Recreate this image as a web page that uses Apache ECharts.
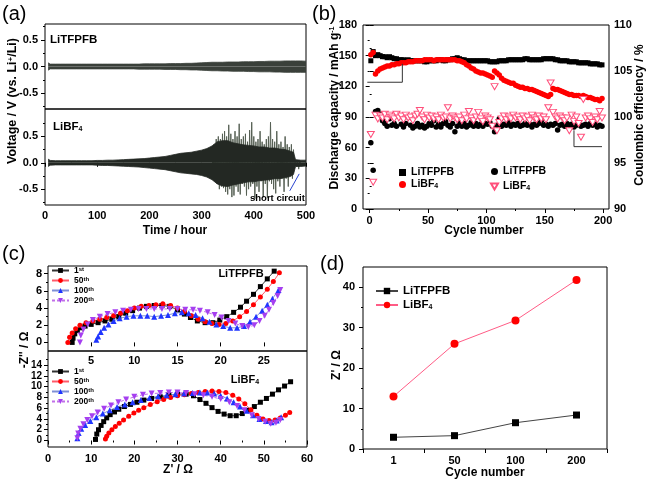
<!DOCTYPE html>
<html><head><meta charset="utf-8">
<script src="https://cdn.jsdelivr.net/npm/echarts@6/dist/echarts.min.js"></script>
<style>html,body{margin:0;padding:0;background:#fff}#c{width:648px;height:482px}</style>
</head><body><div id="c"></div>
<script>
// ---------- Panel (a): voltage envelopes ----------
const aTopHours = [6,10,20,30,40,50,60,70,80,90,100,110,120,130,140,150,160,170,180,190,200,210,220,230,240,250,260,270,280,290,300,310,320,330,340,350,360,370,380,390,400,410,420,430,440,450,460,470,480,490,500];
const aTopUpper = [0.07,0.045,0.045,0.045,0.045,0.045,0.045,0.045,0.045,0.045,0.045,0.045,0.045,0.045,0.045,0.045,0.045,0.045,0.045,0.05,0.05,0.05,0.05,0.05,0.055,0.055,0.055,0.06,0.06,0.065,0.07,0.075,0.08,0.08,0.08,0.085,0.085,0.085,0.09,0.09,0.09,0.095,0.095,0.1,0.1,0.1,0.105,0.105,0.105,0.105,0.1];
const aTopLower = [-0.07,-0.045,-0.045,-0.045,-0.045,-0.045,-0.045,-0.045,-0.045,-0.045,-0.045,-0.045,-0.045,-0.045,-0.045,-0.045,-0.045,-0.045,-0.05,-0.05,-0.05,-0.05,-0.05,-0.055,-0.055,-0.055,-0.06,-0.06,-0.065,-0.065,-0.07,-0.075,-0.08,-0.08,-0.085,-0.085,-0.09,-0.09,-0.09,-0.095,-0.095,-0.1,-0.1,-0.1,-0.105,-0.105,-0.11,-0.11,-0.11,-0.11,-0.11];
const aBotHours = [6,10,20,30,40,50,60,70,80,90,100,110,120,130,140,150,160,170,180,190,200,210,220,230,240,250,260,270,280,290,300,310,320,330,340,350,360,370,380,390,400,410,420,430,440,450,460,470,476,480,490,500];
const aBotUpper = [0.07,0.045,0.04,0.04,0.04,0.04,0.04,0.04,0.04,0.04,0.045,0.045,0.05,0.05,0.055,0.06,0.065,0.07,0.075,0.08,0.09,0.1,0.11,0.12,0.14,0.16,0.18,0.19,0.2,0.22,0.24,0.27,0.32,0.4,0.42,0.42,0.38,0.36,0.34,0.33,0.32,0.3,0.3,0.28,0.28,0.26,0.25,0.22,0.2,0.06,0.05,0.05];
const aBotLower = [-0.07,-0.045,-0.04,-0.04,-0.04,-0.04,-0.04,-0.04,-0.04,-0.04,-0.045,-0.05,-0.05,-0.055,-0.06,-0.065,-0.07,-0.075,-0.08,-0.09,-0.1,-0.11,-0.12,-0.13,-0.15,-0.17,-0.19,-0.2,-0.21,-0.22,-0.24,-0.27,-0.32,-0.4,-0.44,-0.45,-0.42,-0.4,-0.38,-0.36,-0.36,-0.34,-0.33,-0.32,-0.3,-0.3,-0.28,-0.26,-0.22,-0.07,-0.07,-0.06];
const aSpikeHours = [320,322,324,326,328,330,332,334,336,338,340,342,344,346,348,350,352,354,356,358,360,362,364,366,368,370,372,374,376,378,380,382,384,386,388,390,392,394,396,398,400,402,404,406,408,410,412,414,416,418,420,422,424,426,428,430,432,434,436,438,440,442,444,446,448,450,452,454,456,458,460,462,464,466,468,470,472,474,476,478,480,482,484,486,488,490];
const aSpikeVolts = [0.32,-0.3,0.35,-0.35,0.45,-0.4,0.5,-0.5,0.45,-0.45,0.55,-0.48,0.6,-0.55,0.5,-0.6,0.72,-0.5,0.55,-0.65,0.45,-0.62,0.6,-0.45,0.5,-0.55,0.74,-0.6,0.45,-0.4,0.5,-0.45,0.55,-0.62,0.4,-0.5,0.62,-0.45,0.77,-0.4,0.5,-0.68,0.4,-0.45,0.45,-0.55,0.6,-0.35,0.4,-0.65,0.35,-0.4,0.45,-0.66,0.5,-0.35,0.77,-0.4,0.45,-0.5,0.4,-0.58,0.6,-0.35,0.35,-0.45,0.4,-0.3,0.3,-0.55,0.5,-0.3,0.35,-0.45,0.3,-0.25,0.35,-0.3,0.25,-0.1,0.06,-0.07,0.05,-0.12,0.05,-0.06];
const aArrow = [[469,-0.53],[487,-0.21]];

// ---------- Panel (b): cycling ----------
const bCycles = [1,3,5,7,9,11,13,15,17,19,21,23,25,27,29,31,33,35,37,39,41,43,45,47,49,51,53,55,57,59,61,63,65,67,69,71,73,75,77,79,81,83,85,87,89,91,93,95,97,99,101,103,105,107,109,111,113,115,117,119,121,123,125,127,129,131,133,135,137,139,141,143,145,147,149,151,153,155,157,159,161,163,165,167,169,171,173,175,177,179,181,183,185,187,189,191,193,195,197,199];
const bCapTFPFB = [145,154,150,151,150,149,149,148,149,148, 147,147,146,146,146,145,146,145,145,145, 145,145,145,144,144,145,145,145,145,146, 146,145,145,146,146,147,147,148,147,146, 146,145,145,145,145,145,145,145,145,145, 145,144,144,144,144,145,145,145,145,146, 146,146,146,146,146,146,147,147,146,146, 146,146,146,146,147,147,147,147,147,146, 146,145,145,145,145,144,144,144,144,143, 143,143,143,143,142,142,142,142,141,141];
const bCapBF4 = [151,153,132,135,137,138,139,140,140,141, 141,142,142,143,143,143,144,144,144,145, 145,145,145,146,146,146,146,145,146,146, 146,146,146,146,146,146,146,145,145,144, 143,141,140,138,137,135,134,133,133,132, 131,130,129,135,133,131,128,126,125,124, 123,123,121,120,119,119,118,118,117,117, 116,115,114,113,112,111,110,112,118,117, 117,116,115,114,113,112,112,111,111,111, 110,111,110,109,109,108,107,107,106,108];
const bCeTFPFB = [97.2,94.2,100.6,100.7,100.3,99.6,99.3,99.0,99.8,99.1, 99.3,99.0,100.1,99.2,98.9,99.3,100.0,99.1,98.8,99.0, 99.3,98.9,99.1,98.8,99.0,99.3,99.1,99.6,98.9,99.2, 98.9,99.3,99.5,99.1,98.9,99.3,98.4,99.0,99.4,99.0, 99.3,98.9,99.1,99.4,99.0,99.3,99.0,99.2,99.0,99.3, 99.2,99.4,99.0,98.4,99.1,99.8,99.0,99.2,99.1,99.4, 99.0,99.2,99.1,99.3,99.0,99.1,99.3,99.1,99.2,98.9, 99.2,99.1,99.3,99.6,99.1,99.2,99.0,99.2,99.1,99.3, 98.6,99.1,99.2,99.0,99.3,99.1,99.2,98.9,99.1,99.3, 99.0,99.1,99.2,99.0,99.3,99.1,99.2,98.9,99.1,99.0];
const bCeBF4 = [98.1,92.9,100.2,99.8,100.1,99.9,100.3,99.7,100.2,100.0, 99.8,100.3,99.9,100.1,99.7,100.2,99.9,100.0,99.6,100.1, 100.3,100.7,100.0,99.7,100.2,99.9,100.1,99.8,100.0,99.7, 100.2,99.9,100.0,101.0,99.8,100.1,99.9,99.7,100.0,99.6, 100.2,99.8,100.6,99.9,99.6,100.0,100.5,99.8,99.5,100.1, 99.9,99.7,99.0,103.3,98.5,99.4,99.8,100.1,99.7,100.0, 99.8,100.2,99.9,100.0,99.7,100.1,99.8,100.0,99.6,100.2, 99.9,99.7,100.1,99.8,100.0,99.7,101.0,103.7,100.5,100.0, 99.8,100.1,99.9,99.6,99.9,98.5,100.2,99.5,100.0,99.3, 97.8,101.9,99.9,100.1,99.8,99.4,100.0,99.7,100.6,99.9];
const bArrowCap = [[28,142],[28,124],[-2,124]];
const bArrowCe = [[175,77],[175,61],[199,61]];

// ---------- Panel (c): Nyquist ----------
const cTop1st = [[2.8,0],[2.9,0.5],[3.1,1.0],[3.4,1.4],[3.8,1.7],[4.3,1.9],[5.0,2.1],[5.8,2.3],[6.6,2.5],[7.4,2.7],[8.2,3.0],[9.0,3.4],[9.8,3.7],[10.6,4.0],[11.4,4.2],[12.3,4.3],[13.2,4.3],[14.1,4.2],[15.0,3.8],[15.8,3.3],[16.5,2.9],[17.3,2.5],[18.2,2.3],[19.1,2.3],[19.9,2.6],[20.7,3.0],[21.5,3.5],[22.3,4.1],[23.0,4.8],[23.8,5.6],[24.6,6.5],[25.4,7.4],[26.2,8.3]];
const cTop50th = [[2.3,0],[2.5,0.6],[2.8,1.1],[3.2,1.6],[3.7,2.0],[4.4,2.3],[5.2,2.5],[6.0,2.7],[6.8,2.9],[7.6,3.1],[8.4,3.4],[9.2,3.7],[10.0,4.0],[10.8,4.2],[11.7,4.3],[12.5,4.4],[13.3,4.5],[14.2,4.3],[15.0,4.0],[15.8,3.6],[16.6,3.1],[17.4,2.7],[18.2,2.4],[19.0,2.2],[19.8,2.1],[20.6,2.2],[21.4,2.5],[22.2,3.0],[23.0,3.6],[23.8,4.4],[24.6,5.3],[25.4,6.2],[26.1,7.1],[26.8,8.1]];
const cTop100th = [[5.6,0.3],[5.8,0.7],[6.1,1.2],[6.5,1.7],[7.0,2.1],[7.6,2.5],[8.3,2.8],[9.1,3.0],[9.9,3.1],[10.7,3.1],[11.5,3.1],[12.3,3.0],[13.1,3.1],[13.9,3.2],[14.7,3.4],[15.5,3.5],[16.3,3.4],[17.1,3.2],[17.9,2.8],[18.7,2.4],[19.5,2.1],[20.3,1.9],[21.1,1.7],[21.9,1.7],[22.7,1.9],[23.4,2.4],[24.1,3.0],[24.8,3.7],[25.4,4.4],[26.0,5.1],[26.7,6.1]];
const cTop200th = [[3.7,0],[3.8,0.8],[4.1,1.5],[4.6,2.1],[5.2,2.6],[6.0,3.0],[6.9,3.3],[7.8,3.5],[8.7,3.7],[9.6,3.8],[10.5,3.9],[11.4,3.9],[12.3,3.9],[13.2,3.9],[14.1,3.9],[15.0,3.9],[15.9,3.8],[16.8,3.8],[17.6,3.7],[18.5,3.5],[19.3,3.2],[20.1,2.9],[20.9,2.5],[21.7,2.2],[22.5,1.9],[23.2,1.8],[23.9,2.0],[24.5,2.5],[25.1,3.1],[25.6,3.8],[26.1,4.6],[26.6,5.4],[26.9,6.1]];
const cBot1st = [[11.0,0.2],[11.3,1.2],[11.7,2.0],[12.3,2.8],[12.9,3.5],[13.6,4.2],[14.4,4.8],[15.4,5.3],[16.4,5.8],[17.7,6.3],[19.1,6.7],[20.6,7.1],[22.2,7.5],[24.0,7.8],[26.0,8.1],[28.0,8.4],[30.0,8.6],[32.0,8.6],[33.7,8.3],[35.2,7.6],[36.6,6.9],[38.0,6.1],[39.4,5.4],[40.8,4.9],[42.2,4.6],[43.6,4.6],[45.0,5.0],[46.4,5.6],[47.8,6.3],[49.2,7.1],[50.6,7.8],[52.0,8.6],[53.4,9.4],[54.8,10.1],[56.2,10.9]];
const cBot50th = [[13.3,0.3],[13.6,0.8],[14.1,1.4],[14.8,2.0],[15.6,2.6],[16.5,3.2],[17.5,3.8],[18.7,4.5],[19.9,5.1],[21.0,5.6],[22.2,6.1],[23.7,6.7],[25.3,7.2],[26.8,7.6],[28.4,8.0],[30.0,8.3],[31.6,8.5],[33.2,8.7],[34.8,8.9],[36.4,9.1],[38.0,9.2],[39.6,9.1],[41.2,8.9],[42.8,8.4],[44.2,7.7],[45.6,6.8],[47.0,5.7],[48.4,4.7],[49.8,4.0],[51.2,3.7],[52.6,3.8],[53.8,4.2],[55.0,4.7],[56.0,5.2]];
const cBot100th = [[6.8,0.4],[7.1,1.4],[7.7,2.2],[8.6,2.9],[9.8,3.6],[11.2,4.3],[12.7,5.0],[14.3,5.6],[16.0,6.2],[17.8,6.7],[19.6,7.1],[21.5,7.5],[23.5,7.9],[25.5,8.2],[27.5,8.4],[29.5,8.6],[31.5,8.7],[33.5,8.8],[35.2,8.9],[36.9,8.9],[38.5,8.7],[40.0,8.3],[41.5,7.8],[43.0,7.1],[44.5,6.3],[46.0,5.5],[47.5,4.7],[49.0,4.0],[50.5,3.6],[51.8,3.4],[53.0,3.7],[54.0,4.3]];
const cBot200th = [[6.8,0.4],[7.0,1.3],[7.5,2.2],[8.2,3.0],[9.1,3.8],[10.2,4.5],[11.5,5.2],[13.0,5.9],[14.6,6.5],[16.3,7.1],[18.1,7.6],[20.0,8.1],[22.0,8.5],[24.0,8.7],[26.0,8.8],[28.0,8.9],[30.0,8.9],[32.0,8.8],[34.0,8.6],[36.0,8.4],[38.0,8.1],[40.0,7.7],[42.0,7.1],[43.8,6.4],[45.5,5.6],[47.2,4.7],[48.8,4.0],[50.3,3.5],[51.6,3.1],[52.8,3.3],[53.8,3.8]];

// ---------- Panel (d) ----------
const dCycles = ['1','50','100','200'];
const dTFPFB = [2.9,3.3,6.5,8.4];
const dBF4 = [13.0,26.0,31.8,41.8];

// ---------- tick label lists ----------
const aYLabels = [-0.5,0,0.5];
const aYMinor = [-0.75,-0.25,0.25,0.75];
const bXLabels = [0,50,100,150,200];
const bXMinor = [25,75,125,175];
const cTopXLabels = [5,10,15,20,25];
const cTopYLabels = [0,2,4,6,8];
const cTopYMinor = [1,3,5,7];
const cBotYLabels = [0,2,4,6,8,10,12,14];
const cBotYMinor = [1,3,5,7,9,11,13,15];
const dYLabels = [0,10,20,30,40];
const dYMinor = [5,15,25,35];

const FONT = "'Liberation Sans', Arial, sans-serif";
const zip = (xs, ys) => xs.map((x, i) => [x, ys[i]]);

function valAxis(o) {
  const ax = {
    type: 'value', gridIndex: o.grid, min: o.min, max: o.max,
    axisLine: {show: false}, splitLine: {show: false},
    axisTick: {show: true, length: o.tickLen || 4, lineStyle: {color: '#000', width: 1}},
    axisLabel: {show: !o.noLabel, color: '#000', fontSize: o.fontSize || 11, fontWeight: 'bold', fontFamily: FONT,
      margin: o.margin == null ? 5 : o.margin, showMinLabel: true, showMaxLabel: true, hideOverlap: false}
  };
  if (o.lineHeight) ax.axisLabel.lineHeight = o.lineHeight;
  if (o.position) ax.position = o.position;
  if (o.fmt) ax.axisLabel.formatter = o.fmt;
  if (o.interval) ax.interval = o.interval;
  if (o.labels) ax.axisLabel.customValues = o.labels;
  if (o.ticks) ax.axisTick.customValues = o.ticks;
  if (o.minorSplit) ax.minorTick = {show: true, splitNumber: o.minorSplit, length: 2, lineStyle: {color: '#000', width: 1}};
  if (o.hideTicks) ax.axisTick.show = false;
  return ax;
}

const gridBase = {show: true, borderColor: '#000', borderWidth: 1, backgroundColor: 'transparent'};
const grids = [
  Object.assign({left: 45, top: 24, width: 261, height: 85}, gridBase),
  Object.assign({left: 45, top: 109, width: 261, height: 96}, gridBase),
  Object.assign({left: 363, top: 25, width: 246, height: 184}, gridBase),
  Object.assign({left: 48, top: 266, width: 259, height: 85}, gridBase),
  Object.assign({left: 48, top: 351, width: 259, height: 96}, gridBase),
  Object.assign({left: 363, top: 267, width: 244, height: 182}, gridBase)
];

const fmt1 = v => v.toFixed(1);
const xAxes = [
  valAxis({grid: 0, min: 0, max: 500, noLabel: true, hideTicks: true, position: 'bottom'}),
  valAxis({grid: 1, min: 0, max: 500, interval: 100, minorSplit: 2, margin: 5, position: 'bottom'}),
  valAxis({grid: 2, min: -5.7, max: 205, labels: bXLabels, ticks: bXLabels, margin: 6, position: 'bottom'}),
  valAxis({grid: 2, min: -5.7, max: 205, noLabel: true, ticks: bXMinor, tickLen: 2, position: 'bottom'}),
  valAxis({grid: 3, min: 0, max: 30, labels: cTopXLabels, ticks: cTopXLabels, margin: 4, position: 'bottom'}),
  valAxis({grid: 4, min: 0, max: 60, interval: 10, minorSplit: 2, margin: 6, position: 'bottom'}),
  {type: 'category', gridIndex: 5, data: dCycles, boundaryGap: true, position: 'bottom',
   axisLine: {show: false}, splitLine: {show: false},
   axisTick: {show: true, length: 4, lineStyle: {color: '#000'}},
   axisLabel: {color: '#000', fontSize: 11, fontWeight: 'bold', fontFamily: FONT, margin: 6}}
];
const yAxes = [
  valAxis({grid: 0, min: -0.8, max: 0.8, labels: aYLabels, ticks: aYLabels, fmt: fmt1, margin: 7, position: 'left'}),
  valAxis({grid: 0, min: -0.8, max: 0.8, noLabel: true, ticks: aYMinor, tickLen: 2, position: 'left'}),
  valAxis({grid: 1, min: -0.8, max: 1.02, labels: aYLabels, ticks: aYLabels, fmt: fmt1, margin: 7, position: 'left'}),
  valAxis({grid: 1, min: -0.8, max: 1.02, noLabel: true, ticks: aYMinor, tickLen: 2, position: 'left'}),
  valAxis({grid: 2, min: 0, max: 180, interval: 30, minorSplit: 2, margin: 6, position: 'left'}),
  valAxis({grid: 2, min: 90, max: 110, interval: 5, minorSplit: 2, margin: 5, position: 'right'}),
  valAxis({grid: 3, min: -1, max: 8.9, labels: cTopYLabels, ticks: cTopYLabels, margin: 6, position: 'left'}),
  valAxis({grid: 3, min: -1, max: 8.9, noLabel: true, ticks: cTopYMinor, tickLen: 2, position: 'left'}),
  valAxis({grid: 4, min: -1.2, max: 16.6, labels: cBotYLabels, ticks: cBotYLabels, margin: 6, fontSize: 10, lineHeight: 9, position: 'left'}),
  valAxis({grid: 4, min: -1.2, max: 16.6, noLabel: true, ticks: cBotYMinor, tickLen: 2, position: 'left'}),
  valAxis({grid: 5, min: 0, max: 45, labels: dYLabels, ticks: dYLabels, margin: 8, position: 'left'}),
  valAxis({grid: 5, min: 0, max: 45, noLabel: true, ticks: dYMinor, tickLen: 2, position: 'left'})
];

const TRI_DOWN = 'path://M0,0 L10,0 L5,8.66 Z';
const richSub = {sub: {fontSize: 7, fontWeight: 'bold', fontFamily: FONT, color: '#000', verticalAlign: 'bottom', lineHeight: 4}};
const richSup = {sup: {fontSize: 6, fontWeight: 'bold', fontFamily: FONT, color: '#000', verticalAlign: 'top', lineHeight: 4}};

function band(name, xi, yi, hours, vals, color, z) {
  return {type: 'line', name, xAxisIndex: xi, yAxisIndex: yi, data: zip(hours, vals), showSymbol: false, symbol: 'none',
    lineStyle: {color, width: 0.8}, areaStyle: {color, opacity: 1}, silent: true, z: z || 2};
}
function nyq(name, xi, yi, data, symbol, mColor, lColor, lType, size) {
  return {type: 'line', name, xAxisIndex: xi, yAxisIndex: yi, data, symbol, symbolSize: size,
    itemStyle: {color: mColor}, lineStyle: {color: lColor, width: 1, type: lType}, silent: true};
}

const series = [
  band('aTopU', 0, 0, aTopHours, aTopUpper, '#3a403a'),
  band('aTopL', 0, 0, aTopHours, aTopLower, '#3a403a'),
  {type: 'line', name: 'aSpike', xAxisIndex: 1, yAxisIndex: 2, data: zip(aSpikeHours, aSpikeVolts), showSymbol: false, symbol: 'none',
   lineStyle: {color: '#566054', width: 1}, silent: true, z: 2},
  band('aBotU', 1, 2, aBotHours, aBotUpper, '#232823', 3),
  band('aBotL', 1, 2, aBotHours, aBotLower, '#232823', 3),
  {type: 'lines', coordinateSystem: 'cartesian2d', xAxisIndex: 1, yAxisIndex: 2, polyline: true,
   symbol: ['none', 'arrow'], symbolSize: 5, lineStyle: {color: '#2a44d0', width: 1, opacity: 1}, data: [{coords: aArrow}], silent: true, z: 5},
  // (b)
  {type: 'scatter', name: 'LiTFPFB_cap', xAxisIndex: 2, yAxisIndex: 4, data: zip(bCycles, bCapTFPFB), symbol: 'rect', symbolSize: 5, itemStyle: {color: '#000', opacity: 1}, silent: true, z: 3},
  {type: 'scatter', name: 'LiBF4_cap', xAxisIndex: 2, yAxisIndex: 4, data: zip(bCycles, bCapBF4), symbol: 'circle', symbolSize: 5.5, itemStyle: {color: '#ff0000', opacity: 1}, silent: true, z: 4},
  {type: 'scatter', name: 'LiTFPFB_ce', xAxisIndex: 2, yAxisIndex: 5, data: zip(bCycles, bCeTFPFB), symbol: 'circle', symbolSize: 5.5, itemStyle: {color: '#000', opacity: 1}, silent: true, z: 3},
  {type: 'scatter', name: 'LiBF4_ce', xAxisIndex: 2, yAxisIndex: 5, data: zip(bCycles, bCeBF4), symbol: TRI_DOWN, symbolSize: [7, 6], itemStyle: {color: '#fff', borderColor: '#ff4f7b', borderWidth: 1, opacity: 1}, silent: true, z: 4},
  {type: 'lines', coordinateSystem: 'cartesian2d', xAxisIndex: 2, yAxisIndex: 4, polyline: true,
   symbol: ['none', 'arrow'], symbolSize: 6, lineStyle: {color: '#333', width: 1, opacity: 1}, data: [{coords: bArrowCap}, {coords: bArrowCe}], silent: true, z: 5},
  // (c)
  nyq('1st', 4, 6, cTop1st, 'rect', '#000', '#333', 'solid', 5),
  nyq('50th', 4, 6, cTop50th, 'circle', '#ff0000', '#ff5a6a', 'solid', 5),
  nyq('100th', 4, 6, cTop100th, 'triangle', '#1f35ff', '#7f8fd6', 'solid', 6),
  nyq('200th', 4, 6, cTop200th, TRI_DOWN, '#a53ff0', '#c070e8', [3, 2], 6),
  nyq('1st', 5, 8, cBot1st, 'rect', '#000', '#333', 'solid', 5),
  nyq('50th', 5, 8, cBot50th, 'circle', '#ff0000', '#ff5a6a', 'solid', 5),
  nyq('100th', 5, 8, cBot100th, 'triangle', '#1f35ff', '#7f8fd6', 'solid', 6),
  nyq('200th', 5, 8, cBot200th, TRI_DOWN, '#a53ff0', '#c070e8', [3, 2], 6),
  // (d)
  {type: 'line', name: 'LiTFPFB_d', xAxisIndex: 6, yAxisIndex: 10, data: dTFPFB, symbol: 'rect', symbolSize: 7,
   itemStyle: {color: '#000'}, lineStyle: {color: '#444', width: 1}, silent: true},
  {type: 'line', name: 'LiBF4_d', xAxisIndex: 6, yAxisIndex: 10, data: dBF4, symbol: 'circle', symbolSize: 8,
   itemStyle: {color: '#ff0000'}, lineStyle: {color: '#ff5c86', width: 1}, silent: true}
];

const legendNames = {
  'LiTFPFB_cap': 'LiTFPFB', 'LiBF4_cap': 'LiBF{sub|4}', 'LiTFPFB_ce': 'LiTFPFB', 'LiBF4_ce': 'LiBF{sub|4}',
  'LiTFPFB_d': 'LiTFPFB', 'LiBF4_d': 'LiBF{sub|4}',
  '1st': '1{sup|st}', '50th': '50{sup|th}', '100th': '100{sup|th}', '200th': '200{sup|th}'
};
const fmtLegend = n => legendNames[n] || n;
function legend(o) {
  return Object.assign({orient: 'vertical', selectedMode: false, padding: 0, formatter: fmtLegend,
    textStyle: {color: '#000', fontWeight: 'bold', fontFamily: FONT, fontSize: o.fontSize || 11,
      rich: Object.assign({}, richSub, richSup)}}, o);
}
const legends = [
  legend({data: ['LiTFPFB_cap', 'LiBF4_cap'], left: 399, top: 167, itemWidth: 7, itemHeight: 7, itemGap: 1, fontSize: 10.5}),
  legend({data: ['LiTFPFB_ce', 'LiBF4_ce'], left: 490, top: 166, itemWidth: 7, itemHeight: 7, itemGap: 4, fontSize: 10.5}),
  legend({data: ['1st', '50th', '100th', '200th'], left: 51, top: 266, itemWidth: 17, itemHeight: 6, itemGap: 1, fontSize: 8.5}),
  legend({data: ['1st', '50th', '100th', '200th'], left: 51, top: 367, itemWidth: 17, itemHeight: 6, itemGap: 1, fontSize: 8.5}),
  legend({data: ['LiTFPFB_d', 'LiBF4_d'], left: 375, top: 285, itemWidth: 22, itemHeight: 8, itemGap: 2, fontSize: 11.5})
];

function T(x, y, text, size, o) {
  o = o || {};
  return {type: 'text', x, y, rotation: o.rot || 0, silent: true, z: 10,
    style: {text, fill: o.color || '#000', fontSize: size, fontWeight: o.weight || 'bold', fontFamily: FONT,
      align: o.align || 'center', verticalAlign: 'middle', textAlign: o.align || 'center', textVerticalAlign: 'middle',
      rich: {
        sub: {fontSize: Math.round(size * 0.62), fontWeight: 'bold', fontFamily: FONT, fill: '#000', verticalAlign: 'bottom', lineHeight: 4},
        sup: {fontSize: Math.round(size * 0.62), fontWeight: 'bold', fontFamily: FONT, fill: '#000', verticalAlign: 'top', lineHeight: 4}
      }}};
}
const R = Math.PI / 2;
const graphics = [
  T(2, 14, '(a)', 20, {weight: 'normal', align: 'left'}),
  T(312, 14, '(b)', 20, {weight: 'normal', align: 'left'}),
  T(2, 254, '(c)', 20, {weight: 'normal', align: 'left'}),
  T(320, 264, '(d)', 20, {weight: 'normal', align: 'left'}),
  T(50, 40, 'LiTFPFB', 11.5, {align: 'left'}),
  T(53, 127, 'LiBF{sub|4}', 11.5, {align: 'left'}),
  T(250, 198, 'short circuit', 9.5, {align: 'left'}),
  T(13, 101, 'Voltage / V (vs. Li{sup|+}/Li)', 12.5, {rot: R}),
  T(175, 231, 'Time / hour', 12),
  T(335, 108, 'Discharge capacity / mAh g{sup|-1}', 12, {rot: R}),
  T(640, 115, 'Coulombic efficiency / %', 12, {rot: R}),
  T(484, 231, 'Cycle number', 12),
  T(241, 274, 'LiTFPFB', 11),
  T(245, 380, 'LiBF{sub|4}', 11),
  T(25, 350, "-Z'' / Ω", 12, {rot: R}),
  T(178, 470, "Z' / Ω", 12),
  T(337, 365, "Z' / Ω", 12, {rot: R}),
  T(485, 473, 'Cycle number', 12)
];

const chart = echarts.init(document.getElementById('c'), null, {renderer: 'canvas'});
chart.setOption({
  animation: false,
  backgroundColor: '#fff',
  grid: grids, xAxis: xAxes, yAxis: yAxes,
  legend: legends,
  series,
  graphic: graphics
});
</script></body></html>
